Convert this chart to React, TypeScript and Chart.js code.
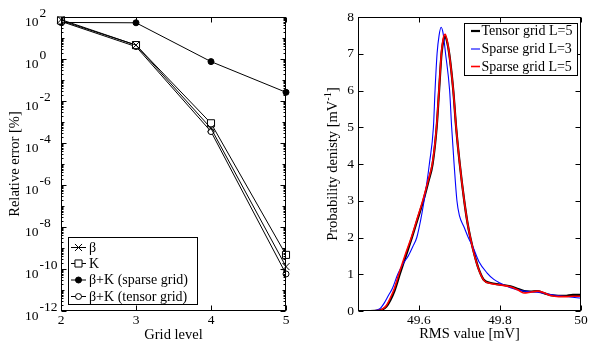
import React, { useEffect, useRef } from "react";
import { Chart, registerables } from "chart.js";

Chart.register(...registerables);

const FONT = "'Liberation Serif', 'Times New Roman', Times, serif";

// ---------- left panel data ----------
const GRID_LEVELS = [2, 3, 4, 5];
const ERR_BETA = [75, 4.6, 5e-4, 1.3e-10];
const ERR_K = [68, 4.6, 8.7e-4, 4.7e-10];
const ERR_SPARSE = [55, 53, 0.75, 0.026];
const ERR_TENSOR = [62, 3.9, 3.5e-4, 5.8e-11];
const ERR_EXPONENTS = [-12, -10, -8, -6, -4, -2, 0, 2];
const LEVEL_TICKS = [2, 3, 4, 5];
const LEFT_LABELS = ["β", "K", "β+K (sparse grid)", "β+K (tensor grid)"];

// ---------- right panel data ----------
const RMS_TICKS = [49.6, 49.8, 50];
const PDF_TICKS = [0, 1, 2, 3, 4, 5, 6, 7, 8];
const RIGHT_LABELS = ["Tensor grid L=5", "Sparse grid L=3", "Sparse grid L=5"];

const TENSOR5_X = [49.45, 49.48, 49.5, 49.51, 49.52, 49.53, 49.54, 49.553, 49.568, 49.583, 49.597, 49.611, 49.623, 49.634, 49.644, 49.65, 49.656, 49.661, 49.665, 49.669, 49.675, 49.685, 49.692, 49.701, 49.712, 49.72, 49.727, 49.738, 49.748, 49.76, 49.777, 49.8, 49.826, 49.845, 49.86, 49.875, 49.892, 49.91, 49.925, 49.945, 49.96, 49.98, 50.0];
const TENSOR5_Y = [0, 0, 0.01, 0.04, 0.12, 0.3, 0.55, 1.0, 1.5, 2.0, 2.5, 3.0, 3.5, 4.0, 5.0, 6.0, 7.0, 7.38, 7.47, 7.36, 7.0, 6.0, 5.0, 4.0, 3.0, 2.4, 2.0, 1.5, 1.13, 0.85, 0.76, 0.72, 0.67, 0.6, 0.54, 0.53, 0.54, 0.48, 0.43, 0.41, 0.41, 0.44, 0.44];

const SPARSE3_X = [49.45, 49.48, 49.495, 49.505, 49.515, 49.525, 49.535, 49.548, 49.562, 49.574, 49.585, 49.595, 49.605, 49.613, 49.62, 49.626, 49.636, 49.64, 49.645, 49.65, 49.655, 49.66, 49.666, 49.676, 49.681, 49.687, 49.694, 49.7, 49.711, 49.722, 49.735, 49.748, 49.768, 49.785, 49.8, 49.826, 49.859, 49.892, 49.925, 49.958, 49.99, 50.0];
const SPARSE3_Y = [0, 0, 0.02, 0.07, 0.22, 0.42, 0.62, 1.0, 1.3, 1.5, 1.75, 2.0, 2.5, 3.0, 3.5, 4.0, 5.0, 6.0, 7.0, 7.5, 7.72, 7.55, 7.0, 6.0, 5.0, 4.0, 3.0, 2.6, 2.3, 2.0, 1.7, 1.35, 1.04, 0.86, 0.76, 0.63, 0.54, 0.51, 0.45, 0.4, 0.36, 0.35];

const SPARSE5_X = [49.45, 49.48, 49.5, 49.51, 49.52, 49.53, 49.54, 49.553, 49.568, 49.583, 49.597, 49.611, 49.623, 49.634, 49.644, 49.65, 49.656, 49.661, 49.665, 49.669, 49.675, 49.685, 49.692, 49.701, 49.712, 49.72, 49.727, 49.738, 49.748, 49.76, 49.777, 49.8, 49.826, 49.845, 49.859, 49.875, 49.892, 49.91, 49.925, 49.945, 49.96, 49.98, 50.0];
const SPARSE5_Y = [0, 0, 0.01, 0.05, 0.15, 0.36, 0.62, 1.08, 1.58, 2.05, 2.55, 3.05, 3.55, 4.05, 5.05, 6.05, 7.05, 7.45, 7.53, 7.4, 7.0, 6.0, 5.0, 4.0, 3.0, 2.4, 2.0, 1.48, 1.12, 0.84, 0.75, 0.71, 0.66, 0.57, 0.49, 0.51, 0.54, 0.49, 0.42, 0.39, 0.39, 0.4, 0.4];

// ---------- helpers ----------
function frame(ctx: CanvasRenderingContext2D, a: any) {
  const L = Math.round(a.left) + 0.5;
  const R = Math.round(a.right) - 0.5;
  const T = Math.round(a.top) + 0.5;
  const B = Math.round(a.bottom) - 0.5;
  ctx.strokeStyle = "#000";
  ctx.lineWidth = 1;
  ctx.strokeRect(L, T, R - L, B - T);
  return { L, R, T, B };
}

function vTick(ctx: CanvasRenderingContext2D, px: number, T: number, B: number, len: number) {
  ctx.beginPath();
  ctx.moveTo(px, B);
  ctx.lineTo(px, B - len);
  ctx.moveTo(px, T);
  ctx.lineTo(px, T + len);
  ctx.stroke();
}

function hTick(ctx: CanvasRenderingContext2D, py: number, L: number, R: number, len: number) {
  ctx.beginPath();
  ctx.moveTo(L, py);
  ctx.lineTo(L + len, py);
  ctx.moveTo(R, py);
  ctx.lineTo(R - len, py);
  ctx.stroke();
}

function marker(ctx: CanvasRenderingContext2D, style: string, x: number, y: number, r: number, fill: string) {
  ctx.save();
  ctx.strokeStyle = "#000";
  ctx.lineWidth = 1;
  ctx.fillStyle = fill;
  ctx.beginPath();
  if (style === "crossRot") {
    const d = r * Math.SQRT1_2;
    ctx.moveTo(x - d, y - d);
    ctx.lineTo(x + d, y + d);
    ctx.moveTo(x + d, y - d);
    ctx.lineTo(x - d, y + d);
    ctx.stroke();
  } else if (style === "rect") {
    const d = r * Math.SQRT1_2;
    ctx.rect(x - d, y - d, 2 * d, 2 * d);
    ctx.fill();
    ctx.stroke();
  } else {
    ctx.arc(x, y, r, 0, Math.PI * 2);
    ctx.fill();
    ctx.stroke();
  }
  ctx.restore();
}

const leftFrame = {
  id: "leftFrame",
  afterDatasetsDraw(chart: any) {
    const { ctx, chartArea: a, scales } = chart;
    const x = scales.x;
    const y = scales.y;
    ctx.save();
    const { L, R, T, B } = frame(ctx, a);
    LEVEL_TICKS.forEach((v) => vTick(ctx, Math.round(x.getPixelForValue(v)) + 0.5, T, B, 5));
    for (let e = -12; e <= 2; e++) {
      const py = Math.round(y.getPixelForValue(Math.pow(10, e))) + 0.5;
      hTick(ctx, py, L, R, e % 2 === 0 ? 5 : 3);
      if (e < 2) {
        for (let m = 2; m <= 9; m++) {
          const pm = Math.round(y.getPixelForValue(m * Math.pow(10, e))) + 0.5;
          hTick(ctx, pm, L, R, 2);
        }
      }
    }
    ctx.fillStyle = "#000";
    ctx.font = `13.5px ${FONT}`;
    ctx.textAlign = "center";
    ctx.textBaseline = "middle";
    LEVEL_TICKS.forEach((v) => ctx.fillText(String(v), x.getPixelForValue(v), 320));
    ctx.textAlign = "left";
    ERR_EXPONENTS.forEach((e) => {
      const py = y.getPixelForValue(Math.pow(10, e));
      ctx.fillText("10", 25, py + 5);
      ctx.fillText(String(e), 39.5, py - 4);
    });
    ctx.font = `14.5px ${FONT}`;
    ctx.textAlign = "center";
    ctx.fillText("Grid level", (a.left + a.right) / 2, 335);
    ctx.save();
    ctx.translate(15, (a.top + a.bottom) / 2);
    ctx.rotate(-Math.PI / 2);
    ctx.fillText("Relative error [%]", 0, 0);
    ctx.restore();
    const bx1 = 68.5, by1 = 237.5, bx2 = 197.5, by2 = 304.5;
    ctx.fillStyle = "#fff";
    ctx.fillRect(bx1, by1, bx2 - bx1, by2 - by1);
    ctx.strokeStyle = "#000";
    ctx.strokeRect(bx1, by1, bx2 - bx1, by2 - by1);
    const rows = [247, 263, 279.5, 296];
    chart.data.datasets.forEach((ds: any, i: number) => {
      const ry = rows[i] + 0.5;
      ctx.beginPath();
      ctx.moveTo(71, ry);
      ctx.lineTo(86, ry);
      ctx.lineWidth = 1;
      ctx.strokeStyle = "#000";
      ctx.stroke();
      marker(ctx, ds.pointStyle, 78.5, ry, ds.pointRadius, ds.pointBackgroundColor);
      ctx.fillStyle = "#000";
      ctx.font = `14px ${FONT}`;
      ctx.textAlign = "left";
      ctx.textBaseline = "middle";
      ctx.fillText(LEFT_LABELS[i], 89, ry + 0.5);
    });
    ctx.restore();
  },
};

const rightFrame = {
  id: "rightFrame",
  afterDatasetsDraw(chart: any) {
    const { ctx, chartArea: a, scales } = chart;
    const x = scales.x;
    const y = scales.y;
    ctx.save();
    const { L, R, T, B } = frame(ctx, a);
    RMS_TICKS.forEach((v) => vTick(ctx, Math.round(x.getPixelForValue(v)) + 0.5, T, B, 5));
    PDF_TICKS.forEach((v) => hTick(ctx, Math.round(y.getPixelForValue(v)) + 0.5, L, R, 5));
    ctx.fillStyle = "#000";
    ctx.font = `13.5px ${FONT}`;
    ctx.textBaseline = "middle";
    ctx.textAlign = "center";
    RMS_TICKS.forEach((v) => ctx.fillText(String(v), x.getPixelForValue(v), 320));
    ctx.textAlign = "right";
    PDF_TICKS.forEach((v) => ctx.fillText(String(v), a.left - 4, y.getPixelForValue(v)));
    ctx.font = `14.5px ${FONT}`;
    ctx.textAlign = "center";
    ctx.fillText("RMS value [mV]", (a.left + a.right) / 2, 334);
    ctx.save();
    ctx.translate(33.5, (a.top + a.bottom) / 2);
    ctx.rotate(-Math.PI / 2);
    ctx.textAlign = "left";
    const p1 = "Probability denisty [mV";
    const p2 = "-1";
    const p3 = "]";
    ctx.font = `14.5px ${FONT}`;
    const w1 = ctx.measureText(p1).width;
    const w3 = ctx.measureText(p3).width;
    ctx.font = `10.5px ${FONT}`;
    const w2 = ctx.measureText(p2).width;
    let u = -(w1 + w2 + w3) / 2;
    ctx.font = `14.5px ${FONT}`;
    ctx.fillText(p1, u, 0);
    u += w1;
    ctx.font = `10.5px ${FONT}`;
    ctx.fillText(p2, u, -5);
    u += w2;
    ctx.font = `14.5px ${FONT}`;
    ctx.fillText(p3, u, 0);
    ctx.restore();
    const bx1 = 164.5, by1 = 23.5, bx2 = 277.5, by2 = 75.5;
    ctx.fillStyle = "#fff";
    ctx.fillRect(bx1, by1, bx2 - bx1, by2 - by1);
    ctx.strokeStyle = "#000";
    ctx.lineWidth = 1;
    ctx.strokeRect(bx1, by1, bx2 - bx1, by2 - by1);
    const rows = [31, 49, 66.5];
    chart.data.datasets.forEach((ds: any, i: number) => {
      const ry = rows[i];
      ctx.beginPath();
      ctx.moveTo(171, ry);
      ctx.lineTo(180, ry);
      ctx.strokeStyle = ds.borderColor;
      ctx.lineWidth = ds.borderWidth;
      ctx.stroke();
      ctx.fillStyle = "#000";
      ctx.font = `14px ${FONT}`;
      ctx.textAlign = "left";
      ctx.textBaseline = "middle";
      ctx.fillText(RIGHT_LABELS[i], 181.5, ry + 0.5);
    });
    ctx.restore();
  },
};

function pts(xs: number[], ys: number[]) {
  return xs.map((v, i) => ({ x: v, y: ys[i] }));
}

function leftConfig(): any {
  const mk = (vals: number[], style: string, r: number, fill: string) => ({
    data: pts(GRID_LEVELS, vals),
    borderColor: "#000",
    borderWidth: 1,
    pointStyle: style,
    pointRadius: r,
    pointBorderWidth: 1,
    pointBorderColor: "#000",
    pointBackgroundColor: fill,
    tension: 0,
    clip: false,
  });
  return {
    type: "line",
    data: {
      datasets: [
        mk(ERR_BETA, "crossRot", 5, "#000"),
        mk(ERR_K, "rect", 5, "#fff"),
        mk(ERR_SPARSE, "circle", 3, "#000"),
        mk(ERR_TENSOR, "circle", 3, "#fff"),
      ],
    },
    options: {
      responsive: false,
      animation: false,
      events: [],
      layout: { padding: { left: 0, right: 14, top: 17, bottom: 0 } },
      plugins: { legend: { display: false }, tooltip: { enabled: false } },
      scales: {
        x: {
          type: "linear",
          min: 2,
          max: 5,
          ticks: { display: false },
          grid: { display: false },
          border: { display: false },
          afterFit: (s: any) => {
            s.height = 34;
          },
        },
        y: {
          type: "logarithmic",
          min: 1e-12,
          max: 1e2,
          ticks: { display: false },
          grid: { display: false },
          border: { display: false },
          afterFit: (s: any) => {
            s.width = 61;
          },
        },
      },
    },
    plugins: [leftFrame],
  };
}

function rightConfig(): any {
  const mk = (xs: number[], ys: number[], color: string, w: number, order: number) => ({
    data: pts(xs, ys),
    borderColor: color,
    borderWidth: w,
    pointRadius: 0,
    cubicInterpolationMode: "monotone",
    order,
  });
  return {
    type: "line",
    data: {
      datasets: [
        mk(TENSOR5_X, TENSOR5_Y, "#000000", 2.2, 3),
        mk(SPARSE3_X, SPARSE3_Y, "#0000ff", 1.1, 2),
        mk(SPARSE5_X, SPARSE5_Y, "#ff0000", 1.6, 1),
      ],
    },
    options: {
      responsive: false,
      animation: false,
      events: [],
      layout: { padding: { left: 0, right: 8, top: 17, bottom: 0 } },
      plugins: { legend: { display: false }, tooltip: { enabled: false } },
      scales: {
        x: {
          type: "linear",
          min: 49.45,
          max: 50,
          ticks: { display: false },
          grid: { display: false },
          border: { display: false },
          afterFit: (s: any) => {
            s.height = 34;
          },
        },
        y: {
          type: "linear",
          min: 0,
          max: 8,
          ticks: { display: false },
          grid: { display: false },
          border: { display: false },
          afterFit: (s: any) => {
            s.width = 58;
          },
        },
      },
    },
    plugins: [rightFrame],
  };
}

export default function App() {
  const leftRef = useRef<HTMLCanvasElement>(null);
  const rightRef = useRef<HTMLCanvasElement>(null);
  useEffect(() => {
    const c1 = new Chart(leftRef.current as HTMLCanvasElement, leftConfig());
    const c2 = new Chart(rightRef.current as HTMLCanvasElement, rightConfig());
    return () => {
      c1.destroy();
      c2.destroy();
    };
  }, []);
  return (
    <div style={{ position: "absolute", left: 0, top: 0, width: 589, height: 345, background: "#fff" }}>
      <canvas ref={leftRef} width={300} height={345} style={{ position: "absolute", left: 0, top: 0 }} />
      <canvas ref={rightRef} width={289} height={345} style={{ position: "absolute", left: 300, top: 0 }} />
    </div>
  );
}
